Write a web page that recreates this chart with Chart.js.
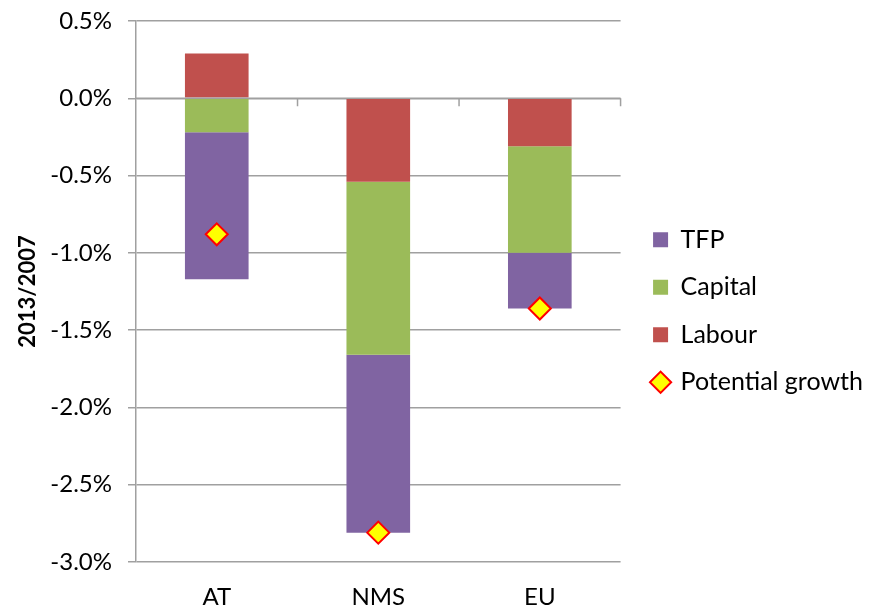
<!DOCTYPE html>
<html>
<head>
<meta charset="utf-8">
<script src="https://cdn.jsdelivr.net/npm/chart.js@4/dist/chart.umd.min.js"></script>
<style>
  html, body { margin: 0; padding: 0; background: #ffffff; }
  #wrap { width: 869px; height: 607px; }
</style>
</head>
<body>
<div id="wrap"><canvas id="c" width="869" height="607"></canvas></div>
<script>
// Contributions to potential growth, 2013 vs 2007 (percentage points)
const categories = ['AT', 'NMS', 'EU'];
const labourValues = [0.29, -0.54, -0.31];
const capitalValues = [-0.22, -1.12, -0.69];
const tfpValues = [-0.95, -1.15, -0.36];
const potentialGrowth = [-0.88, -2.81, -1.36];
const yTickMin = -3.0;
const yTickMax = 0.5;
const yTickStep = 0.5;
const legendOrder = ['TFP', 'Capital', 'Labour', 'Potential growth'];

const FONT = 'Lato, "Open Sans", "DejaVu Sans", sans-serif';
const GRID = '#a0a0a0';
const LEFT_PAD = 15;
const AXIS_X = 136;
const LEGEND_SHIFT_X = 10;
const LEGEND_SHIFT_Y = -3;

// Category axis line through zero, drawn over the bars, with ticks between categories
const zeroAxis = {
  id: 'zeroAxis',
  afterDatasetsDraw(chart) {
    const { ctx, chartArea, scales } = chart;
    const x = scales.x, y = scales.y;
    const y0 = y.getPixelForValue(0);
    const half = (x.getPixelForValue(1) - x.getPixelForValue(0)) / 2;
    ctx.save();
    ctx.strokeStyle = GRID;
    ctx.lineWidth = 1.5;
    ctx.beginPath();
    ctx.moveTo(chartArea.left, y0);
    ctx.lineTo(chartArea.right, y0);
    for (let i = 0; i < categories.length; i++) {
      const xb = x.getPixelForValue(i) + half;
      ctx.moveTo(xb, y0);
      ctx.lineTo(xb, y0 + 8);
    }
    ctx.stroke();
    ctx.restore();
  }
};

// Let the side legend be wider than the default quarter of the canvas,
// and leave a little gap between the plot and the legend keys
const wideLegend = {
  id: 'wideLegend',
  beforeLayout(chart) {
    const lg = chart.legend;
    if (lg && !lg._wideLegend) {
      const orig = lg.update.bind(lg);
      lg.update = (maxW, maxH, margins) => orig(Math.max(maxW, 320), maxH, margins);
      lg._wideLegend = true;
    }
  },
  afterLayout(chart) {
    const lg = chart.legend;
    if (lg) {
      lg.left += LEGEND_SHIFT_X; lg.right += LEGEND_SHIFT_X;
      lg.top += LEGEND_SHIFT_Y; lg.bottom += LEGEND_SHIFT_Y;
    }
  }
};

const barCommon = { stack: 'parts', order: 1, barPercentage: 0.394, categoryPercentage: 1, pointStyle: 'rect', borderWidth: 0 };

new Chart(document.getElementById('c'), {
  data: {
    labels: categories,
    datasets: [
      Object.assign({ type: 'bar', label: 'Labour', data: labourValues, backgroundColor: '#C0504D' }, barCommon),
      Object.assign({ type: 'bar', label: 'Capital', data: capitalValues, backgroundColor: '#9BBB59' }, barCommon),
      Object.assign({ type: 'bar', label: 'TFP', data: tfpValues, backgroundColor: '#8064A2' }, barCommon),
      {
        type: 'line', label: 'Potential growth', data: potentialGrowth, stack: 'pg', order: 0,
        showLine: false, pointStyle: 'rectRot', pointRadius: 11, pointHoverRadius: 11,
        pointBackgroundColor: '#FFFF00', pointBorderColor: '#FF0000', pointBorderWidth: 2,
        backgroundColor: '#FFFF00', borderColor: '#FF0000', borderWidth: 2
      }
    ]
  },
  options: {
    responsive: false,
    devicePixelRatio: 1,
    animation: false,
    layout: { padding: { left: LEFT_PAD, right: 6, top: 21, bottom: 0 } },
    plugins: {
      tooltip: { enabled: false },
      legend: {
        position: 'right',
        labels: {
          usePointStyle: true,
          boxWidth: 15,
          boxHeight: 15,
          padding: 22.5,
          color: '#000',
          font: { family: FONT, size: 25 },
          sort: (a, b) => legendOrder.indexOf(a.text) - legendOrder.indexOf(b.text)
        }
      }
    },
    scales: {
      x: {
        stacked: true,
        grid: { display: false, drawTicks: false },
        border: { display: false },
        ticks: { color: '#000', font: { family: FONT, size: 24 }, padding: 21 },
        afterFit(scale) { scale.height = 45; }
      },
      y: {
        stacked: true,
        min: yTickMin,
        max: yTickMax,
        ticks: {
          stepSize: yTickStep,
          color: '#000',
          font: { family: FONT, size: 24 },
          padding: 16,
          callback: v => v.toFixed(1) + '%'
        },
        grid: { color: GRID, lineWidth: 1.5, tickLength: 8 },
        border: { color: GRID, width: 1.5 },
        title: {
          display: true, text: '2013/2007', color: '#000',
          font: { family: FONT, size: 22, weight: 'bold' },
          padding: { top: 0, bottom: 0 }
        },
        afterFit(scale) {
          scale.width = AXIS_X - LEFT_PAD;
          scale.paddingTop = 0;
          scale.paddingBottom = 0;
        }
      }
    }
  },
  plugins: [zeroAxis, wideLegend]
});
</script>
</body>
</html>
